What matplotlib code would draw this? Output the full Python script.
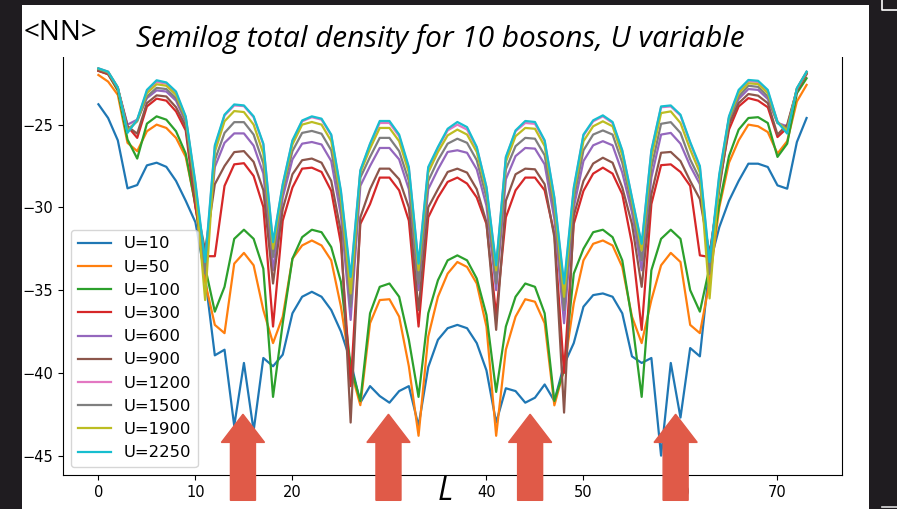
import numpy as np
import matplotlib
matplotlib.use("Agg")
import matplotlib.pyplot as plt
from matplotlib.patches import Rectangle, FancyArrow
from matplotlib.lines import Line2D

# lattice site index
L = list(range(74))

u_labels = ["U=10", "U=50", "U=100", "U=300", "U=600", "U=900",
            "U=1200", "U=1500", "U=1900", "U=2250"]

u10 = [-23.77, -24.6, -25.95, -28.85, -28.65, -27.46, -27.3, -27.55, -28.4, -29.6,
       -30.9, -34.2, -38.94, -38.6, -43.2, -39.4, -43.5, -39.1, -39.6, -38.9,
       -36.4, -35.4, -35.1, -35.4, -36.2, -37.5, -39.3, -41.8, -40.8, -41.4,
       -41.8, -41.1, -40.8, -43.2, -39.65, -38.0, -37.3, -37.1, -37.3, -38.2,
       -39.85, -43.0, -40.93, -41.1, -41.8, -41.5, -40.7, -41.7, -39.5, -38.2,
       -36.0, -35.3, -35.2, -35.4, -36.4, -39.0, -39.4, -39.1, -45.0, -39.4,
       -42.7, -38.5, -39.0, -33.5, -31.2, -29.6, -28.4, -27.36, -27.36, -27.56,
       -28.67, -28.87, -26.05, -24.6]

u50 = [-22.0, -22.4, -23.2, -26.1, -26.6, -25.4, -25.0, -25.2, -25.8, -26.95,
       -29.8, -34.5, -37.1, -37.6, -33.4, -32.75, -33.5, -36.2, -38.2, -36.6,
       -33.1, -32.3, -32.0, -32.3, -33.2, -36.0, -39.8, -41.95, -37.0, -35.6,
       -35.55, -36.6, -39.6, -43.8, -37.8, -35.4, -34.0, -33.3, -33.6, -34.6,
       -37.2, -43.8, -38.6, -36.6, -35.55, -35.7, -37.0, -41.96, -39.8, -35.8,
       -33.2, -32.2, -32.0, -32.3, -33.6, -36.6, -38.2, -35.6, -33.5, -32.75,
       -33.3, -37.1, -37.6, -34.5, -30.0, -27.3, -25.95, -25.0, -25.1, -25.45,
       -26.75, -26.0, -23.6, -22.6]

u100 = [-21.75, -21.95, -22.95, -25.9, -27.05, -24.94, -24.5, -24.7, -25.4, -26.75,
        -29.9, -33.6, -36.3, -34.8, -31.9, -31.35, -31.9, -33.7, -41.45, -37.0,
        -33.1, -31.8, -31.35, -31.5, -32.4, -34.5, -39.6, -41.7, -36.4, -34.8,
        -34.6, -35.4, -38.0, -41.45, -36.4, -34.4, -33.2, -32.9, -33.2, -34.3,
        -36.5, -41.15, -37.2, -35.4, -34.6, -34.8, -36.4, -41.7, -39.8, -34.0,
        -32.5, -31.5, -31.35, -31.8, -33.2, -36.8, -41.45, -33.8, -31.9, -31.35,
        -31.9, -35.0, -36.3, -33.6, -29.8, -26.9, -25.3, -24.6, -24.55, -24.9,
        -26.95, -26.15, -23.1, -22.2]

u300 = [-21.75, -21.95, -22.85, -25.1, -25.8, -23.9, -23.43, -23.55, -24.2, -25.35,
        -30.0, -32.95, -32.95, -28.7, -27.4, -27.33, -28.1, -29.97, -37.2, -30.8,
        -28.8, -27.66, -27.6, -27.86, -29.0, -32.2, -40.8, -31.0, -29.8, -28.2,
        -28.2, -28.97, -30.8, -37.2, -30.6, -29.4, -28.46, -28.2, -28.56, -29.4,
        -31.0, -36.5, -30.6, -28.97, -28.2, -28.2, -28.97, -31.6, -40.0, -31.0,
        -29.0, -27.96, -27.6, -27.96, -29.2, -32.2, -37.4, -29.8, -27.45, -27.4,
        -27.86, -28.7, -32.9, -33.0, -28.6, -25.3, -23.9, -23.4, -23.55, -23.95,
        -25.75, -25.2, -22.95, -21.95]

u600 = [-21.65, -21.87, -22.8, -25.0, -24.7, -23.4, -22.93, -23.0, -23.55, -24.85,
        -29.3, -33.6, -27.56, -26.1, -25.53, -25.53, -26.27, -27.95, -33.8, -29.4,
        -27.1, -26.15, -26.05, -26.2, -27.2, -30.5, -36.8, -28.7, -27.5, -26.41,
        -26.41, -27.1, -28.9, -35.0, -28.9, -27.7, -26.65, -26.55, -26.7, -27.7,
        -29.9, -35.0, -28.3, -26.9, -26.41, -26.45, -27.4, -30.7, -37.0, -30.0,
        -27.2, -26.25, -26.0, -26.25, -27.9, -30.3, -33.8, -28.2, -25.6, -25.5,
        -26.15, -27.5, -28.6, -33.6, -28.7, -24.8, -23.45, -22.85, -22.9, -23.45,
        -24.9, -25.1, -22.87, -21.87]

u900 = [-21.7, -21.9, -22.82, -25.1, -25.55, -23.7, -23.23, -23.3, -23.95, -25.1,
        -29.6, -32.6, -28.6, -27.5, -26.66, -26.6, -27.25, -28.96, -34.6, -30.1,
        -28.0, -27.15, -27.05, -27.3, -28.4, -31.5, -43.0, -30.6, -28.9, -27.66,
        -27.66, -28.3, -30.0, -36.2, -30.0, -28.9, -27.86, -27.66, -27.9, -28.9,
        -30.9, -37.4, -29.6, -28.0, -27.66, -27.7, -28.6, -31.8, -42.4, -30.5,
        -28.4, -27.35, -27.0, -27.3, -28.8, -31.0, -34.8, -29.2, -26.7, -26.65,
        -27.2, -28.4, -29.5, -32.8, -28.9, -25.0, -23.7, -23.15, -23.25, -23.7,
        -25.6, -25.0, -22.9, -21.9]

u1200 = [-21.6, -21.8, -22.75, -25.45, -24.7, -23.0, -22.42, -22.52, -23.1, -24.55,
         -28.6, -33.5, -26.35, -24.45, -23.84, -23.88, -24.55, -26.2, -32.2, -28.65,
         -26.0, -24.8, -24.55, -24.7, -25.65, -29.1, -34.4, -27.8, -26.2, -24.9,
         -24.9, -25.7, -27.65, -33.5, -27.65, -26.4, -25.35, -25.0, -25.3, -26.4,
         -28.8, -33.6, -27.0, -25.4, -24.9, -24.95, -26.0, -29.45, -34.8, -28.9,
         -25.65, -24.8, -24.5, -24.9, -26.6, -29.45, -32.3, -26.6, -23.95, -23.9,
         -24.45, -26.1, -27.6, -33.5, -28.1, -24.55, -23.0, -22.38, -22.42, -23.0,
         -24.8, -25.45, -22.8, -21.8]

u1500 = [-21.63, -21.85, -22.78, -25.3, -24.8, -23.3, -22.78, -22.85, -23.4, -24.75,
         -29.0, -34.0, -27.15, -25.5, -24.85, -24.85, -25.6, -27.35, -33.0, -29.0,
         -26.6, -25.5, -25.38, -25.55, -26.55, -29.9, -36.0, -28.2, -26.95, -25.8,
         -25.8, -26.6, -28.4, -34.6, -28.4, -27.15, -26.15, -25.85, -26.1, -27.15,
         -29.4, -34.6, -27.7, -26.3, -25.8, -25.85, -26.85, -30.2, -36.2, -29.5,
         -26.55, -25.6, -25.35, -25.6, -27.3, -29.9, -33.2, -27.6, -24.95, -24.85,
         -25.5, -27.1, -28.3, -34.0, -28.5, -24.7, -23.3, -22.65, -22.72, -23.3,
         -24.9, -25.25, -22.85, -21.85]

u1900 = [-21.62, -21.82, -22.76, -25.4, -24.75, -23.1, -22.56, -22.65, -23.2, -24.6,
         -28.8, -35.6, -26.65, -24.8, -24.18, -24.24, -25.0, -26.75, -32.5, -28.8,
         -26.2, -25.0, -24.84, -25.0, -26.0, -29.4, -35.2, -27.9, -26.45, -25.2,
         -25.2, -26.0, -27.9, -33.8, -27.9, -26.65, -25.65, -25.3, -25.6, -26.65,
         -29.0, -33.8, -27.25, -25.7, -25.2, -25.25, -26.3, -29.7, -35.4, -29.1,
         -26.0, -25.1, -24.8, -25.1, -26.85, -29.6, -32.6, -27.0, -24.3, -24.2,
         -24.9, -26.5, -27.9, -35.5, -28.3, -24.6, -23.1, -22.5, -22.55, -23.1,
         -24.85, -25.35, -22.82, -21.82]

u2250 = [-21.6, -21.8, -22.75, -25.5, -24.7, -22.9, -22.32, -22.45, -23.0, -24.5,
         -28.5, -33.3, -26.25, -24.4, -23.78, -23.84, -24.5, -26.15, -32.1, -28.6,
         -25.95, -24.75, -24.5, -24.64, -25.6, -29.0, -34.2, -27.76, -26.15, -24.78,
         -24.78, -25.6, -27.56, -33.4, -27.56, -26.35, -25.25, -24.84, -25.15, -26.35,
         -28.77, -33.5, -26.95, -25.35, -24.78, -24.84, -25.95, -29.4, -34.6, -28.8,
         -25.6, -24.74, -24.44, -24.84, -26.55, -29.4, -32.2, -26.55, -23.9, -23.84,
         -24.4, -26.05, -27.5, -33.3, -28.0, -24.5, -22.9, -22.3, -22.35, -22.9,
         -24.85, -25.54, -22.8, -21.8]

series = [u10, u50, u100, u300, u600, u900, u1200, u1500, u1900, u2250]

# positions of the highlighted sites (marked with arrows)
arrow_sites = [14.9, 29.9, 44.5, 59.5]

W, H = 897, 509
fig = plt.figure(figsize=(W / 100, H / 100), dpi=100)
fig.patch.set_facecolor("#1f1c20")

# white slide panel
fig.patches.append(Rectangle((22 / W, 0), (869 - 22) / W, (509 - 5) / H,
                             transform=fig.transFigure, facecolor="white",
                             edgecolor="none", zorder=-10))

ax = fig.add_axes([63 / W, (H - 475) / H, (842 - 63) / W, (475 - 49) / H])
for vals, lab in zip(series, u_labels):
    ax.plot(L, vals, label=lab, linewidth=1.6)

ax.set_xlim(-3.65, 76.65)
ax.set_ylim(-46.17, -20.43)
ax.set_xticks([0, 10, 20, 30, 40, 50, 60, 70])
ax.set_yticks([-45, -40, -35, -30, -25])
ax.tick_params(labelsize=10.5)
ax.spines["top"].set_visible(False)

ax.legend(loc="lower left", fontsize=11.8)

# arrows pointing at the highlighted sites
for xs in arrow_sites:
    ax.add_patch(FancyArrow(xs, -47.7, 0, 5.2, width=2.58, head_width=4.45,
                            head_length=1.7, length_includes_head=True,
                            color="#e05a48", clip_on=False, zorder=6))

# title band over the top of the axes
fig.patches.append(Rectangle((22 / W, (H - 57) / H), (869 - 22) / W, 52 / H,
                             transform=fig.transFigure, facecolor="white",
                             edgecolor="none", zorder=5))

fig.text(24 / W, (H - 40) / H, "<NN>", fontsize=20, family="Open Sans",
         va="baseline", ha="left", zorder=7)
fig.text(440 / W, (H - 46.7) / H, "Semilog total density for 10 bosons, U variable",
         fontsize=21.4, family="Open Sans", style="italic",
         va="baseline", ha="center", zorder=7)
fig.text(438 / W, 0.002, "L", fontsize=23, family="Open Sans",
         style="italic", va="bottom", ha="left", zorder=7)

# corner marks at the right edge of the slide
fig.lines.append(Line2D([882 / W, 882 / W, 1.0], [1.0, (H - 10) / H, (H - 10) / H],
                        transform=fig.transFigure, color="white", linewidth=1.2))
fig.lines.append(Line2D([882 / W, 1.0], [(H - 507) / H, (H - 507) / H],
                        transform=fig.transFigure, color="#dddddd", linewidth=1.2))

fig.savefig("out.png", dpi=100, facecolor=fig.get_facecolor())
